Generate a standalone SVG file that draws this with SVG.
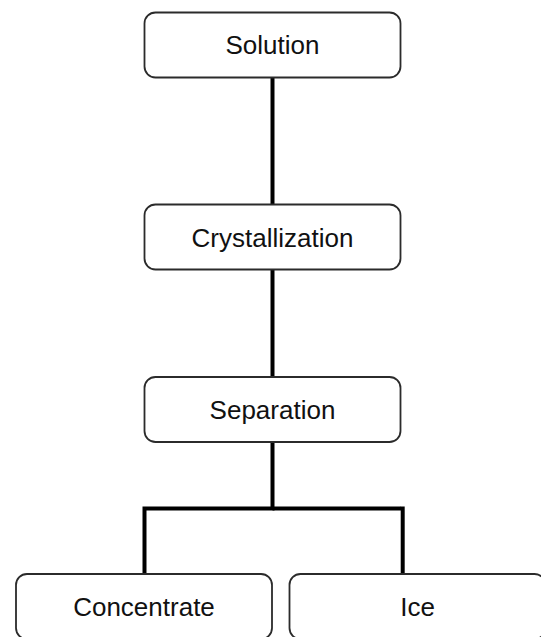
<svg xmlns="http://www.w3.org/2000/svg" width="541" height="637" viewBox="0 0 541 637">
<style>
.box{fill:#fff;stroke:#2b2b2b;stroke-width:1.8}
.lbl{font-family:"Liberation Sans",Arial,sans-serif;font-size:26px;fill:#111;text-anchor:middle}
.con{stroke:#000;stroke-width:4;fill:none}
</style>
<rect width="541" height="637" fill="#fff"/>
<g id="connectors">
<line class="con" x1="272.5" y1="77" x2="272.5" y2="204"/>
<line class="con" x1="272.5" y1="270" x2="272.5" y2="377"/>
<polyline class="con" points="144.5,574 144.5,508.5 272.5,508.5 272.5,442"/>
<line class="con" x1="272.5" y1="508.5" x2="401" y2="508.5"/>
<line class="con" x1="402.7" y1="506.5" x2="402.7" y2="574"/>
</g>
<g id="solution">
<rect class="box" x="144.5" y="12.5" width="256" height="65" rx="11"/>
<text class="lbl" x="272.5" y="54">Solution</text>
</g>
<g id="crystallization">
<rect class="box" x="144.5" y="204.5" width="256" height="65" rx="11"/>
<text class="lbl" x="272.5" y="247">Crystallization</text>
</g>
<g id="separation">
<rect class="box" x="144.5" y="377" width="256" height="65" rx="11"/>
<text class="lbl" x="272.5" y="419">Separation</text>
</g>
<g id="concentrate">
<rect class="box" x="16" y="574" width="256" height="65" rx="11"/>
<text class="lbl" x="144" y="616">Concentrate</text>
</g>
<g id="ice">
<rect class="box" x="289.5" y="574" width="256" height="65" rx="11"/>
<text class="lbl" x="417.5" y="616">Ice</text>
</g>
</svg>
